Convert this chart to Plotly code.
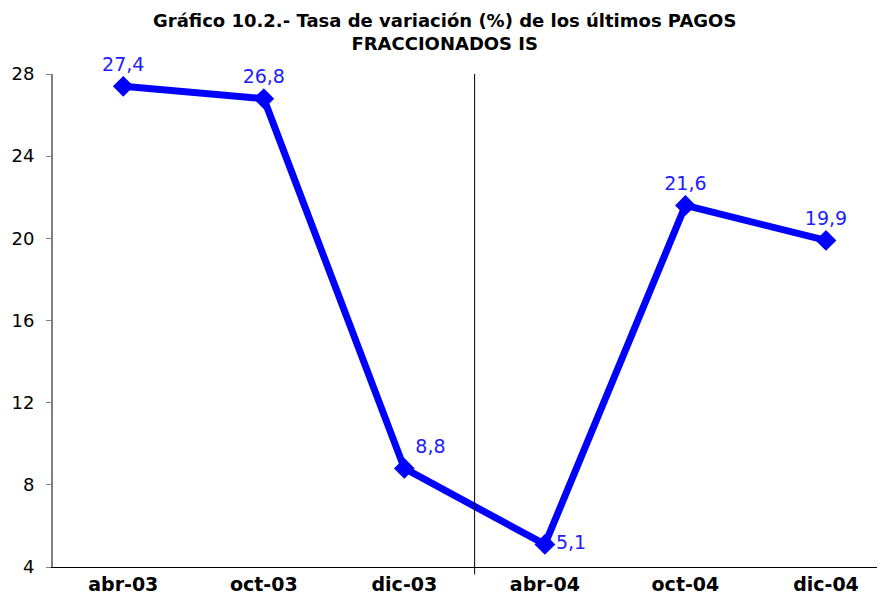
import plotly.graph_objects as go

categories = ["abr-03", "oct-03", "dic-03", "abr-04", "oct-04", "dic-04"]
values = [27.4, 26.8, 8.8, 5.1, 21.6, 19.9]
labels = ["27,4", "26,8", "8,8", "5,1", "21,6", "19,9"]
label_pos = ["top center", "top center", "top right", "middle right", "top center", "top center"]
y_ticks = [4, 8, 12, 16, 20, 24, 28]

xs = list(range(len(categories)))
blue = "#0000FF"

fig = go.Figure()
fig.add_trace(go.Scatter(
    x=xs, y=values, mode="lines+markers+text",
    line=dict(color=blue, width=7),
    marker=dict(symbol="diamond", size=16, color=blue),
    text=labels, textposition=label_pos,
    textfont=dict(family="DejaVu Sans", size=19, color="#2020FF"),
    cliponaxis=False, hoverinfo="skip",
))

# separator line between 2003 and 2004
fig.add_shape(type="line", xref="x", yref="paper", x0=2.5, x1=2.5, y0=-0.015, y1=1,
              line=dict(color="#000000", width=1))

fig.add_annotation(
    text="<b>Gráfico 10.2.- Tasa de variación (%) de los últimos PAGOS<br>FRACCIONADOS IS</b>",
    xref="paper", yref="paper", x=0.47, y=1.0, yshift=66, xanchor="center", yanchor="top",
    showarrow=False, align="center",
    font=dict(family="DejaVu Sans", size=18, color="black"),
)

fig.update_layout(
    width=885, height=609,
    margin=dict(l=45, r=8, t=66, b=50),
    paper_bgcolor="white", plot_bgcolor="white",
    showlegend=False,
    xaxis=dict(range=[-0.5, 5.42], tickmode="array", tickvals=xs, ticktext=[f"<b>{c}</b>" for c in categories],
               showgrid=False, zeroline=False, showline=True, linecolor="#000000", linewidth=1,
               ticks="", automargin=False, ticklabelstandoff=0,
               tickfont=dict(family="DejaVu Sans", size=19, color="black")),
    yaxis=dict(range=[4, 28], tickmode="array", tickvals=y_ticks, showgrid=False, zeroline=False,
               showline=True, linecolor="#808080", linewidth=2, ticks="outside", ticklen=5,
               tickcolor="#808080", automargin=False, ticklabelstandoff=8,
               tickfont=dict(family="DejaVu Sans", size=18, color="black")),
)

fig.write_html("out.html")
